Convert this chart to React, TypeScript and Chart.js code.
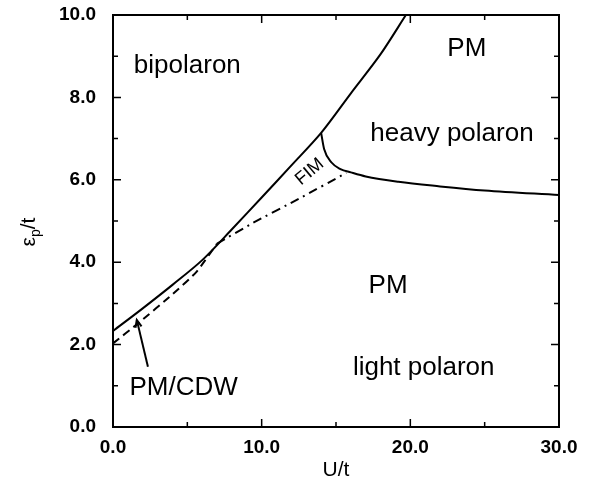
import React, { useEffect, useRef } from "react";
import { Chart, registerables } from "chart.js";

Chart.register(...registerables);

// axis ticks
const xTickValues = [0, 10, 20, 30];
const yTickValues = [0, 2, 4, 6, 8, 10];

// upper solid boundary (bipolaron)
const upperU = [0, 2, 4, 6, 8, 10, 12, 14, 16, 18, 19.7];
const upperEps = [2.33, 2.88, 3.45, 4.05, 4.8, 5.57, 6.35, 7.14, 8.1, 9.05, 10.0];

// dashed PM/CDW boundary
const cdwU = [0, 1.7, 4, 5.6, 7.0];
const cdwEps = [2.03, 2.52, 3.22, 3.76, 4.45];

// dash-dot FIM lower boundary
const fimLowU = [7.0, 9.4, 12.5, 15.7];
const fimLowEps = [4.45, 4.95, 5.54, 6.17];

// heavy polaron boundary
const heavyU = [14, 14.2, 14.7, 15.3, 16, 17, 19.2, 22, 25, 30];
const heavyEps = [7.14, 6.75, 6.42, 6.26, 6.18, 6.08, 5.95, 5.84, 5.74, 5.63];

// arrow pointing at PM/CDW strip (tail -> head)
const arrowU = [2.35, 1.6];
const arrowEps = [1.46, 2.6];

// region labels
const regionTexts = ["bipolaron", "PM", "heavy polaron", "FIM", "PM", "light polaron", "PM/CDW"];
const regionU = [5.0, 23.8, 22.8, 13.45, 18.5, 20.9, 4.75];
const regionEps = [8.59, 9.0, 6.94, 6.1, 3.25, 1.26, 0.78];
const regionAngle = [0, 0, 0, -40, 0, 0, 0];
const regionSize = [26, 26, 26, 18, 26, 26, 26];

const FONT = "'Liberation Sans', Arial, Helvetica, sans-serif";

const toPts = (xs: number[], ys: number[]) => xs.map((x, i) => ({ x, y: ys[i] }));

const overlay = {
  id: "overlay",
  afterDatasetsDraw(chart: any) {
    const ctx = chart.ctx as CanvasRenderingContext2D;
    const { left, right, top, bottom } = chart.chartArea;
    const xs = chart.scales.x;
    const ys = chart.scales.y;
    ctx.save();
    ctx.strokeStyle = "#000";
    ctx.fillStyle = "#000";
    // frame
    ctx.lineWidth = 2;
    ctx.strokeRect(left, top, right - left, bottom - top);
    // inward ticks
    ctx.lineWidth = 1.5;
    ctx.beginPath();
    for (let v = 0; v <= 30; v += 5) {
      const px = xs.getPixelForValue(v);
      const len = v % 10 === 0 ? 8 : 5;
      ctx.moveTo(px, bottom);
      ctx.lineTo(px, bottom - len);
      ctx.moveTo(px, top);
      ctx.lineTo(px, top + len);
    }
    for (let v = 0; v <= 10; v += 1) {
      const py = ys.getPixelForValue(v);
      const len = v % 2 === 0 ? 8 : 5;
      ctx.moveTo(left, py);
      ctx.lineTo(left + len, py);
      ctx.moveTo(right, py);
      ctx.lineTo(right - len, py);
    }
    ctx.stroke();

    // arrow head
    const tx = xs.getPixelForValue(arrowU[0]);
    const ty = ys.getPixelForValue(arrowEps[0]);
    const hx = xs.getPixelForValue(arrowU[1]);
    const hy = ys.getPixelForValue(arrowEps[1]);
    const ang = Math.atan2(hy - ty, hx - tx);
    ctx.lineWidth = 2;
    ctx.beginPath();
    ctx.moveTo(hx - 8 * Math.cos(ang - 0.4), hy - 8 * Math.sin(ang - 0.4));
    ctx.lineTo(hx, hy);
    ctx.lineTo(hx - 8 * Math.cos(ang + 0.4), hy - 8 * Math.sin(ang + 0.4));
    ctx.stroke();

    // region labels
    ctx.textAlign = "center";
    ctx.textBaseline = "alphabetic";
    regionTexts.forEach((t, i) => {
      const px = xs.getPixelForValue(regionU[i]);
      const py = ys.getPixelForValue(regionEps[i]);
      ctx.save();
      ctx.translate(px, py);
      ctx.rotate((regionAngle[i] * Math.PI) / 180);
      ctx.font = `${regionSize[i]}px ${FONT}`;
      ctx.fillText(t, 0, 0);
      ctx.restore();
    });

    // y-axis title: ε_p/t rotated
    ctx.save();
    ctx.translate(35, 232);
    ctx.rotate(-Math.PI / 2);
    ctx.textAlign = "left";
    const big = `21px ${FONT}`;
    const small = `14px ${FONT}`;
    ctx.font = big;
    const w1 = ctx.measureText("ε").width;
    const w3 = ctx.measureText("/t").width;
    ctx.font = small;
    const w2 = ctx.measureText("p").width;
    let cx = -(w1 + w2 + w3) / 2;
    ctx.font = big;
    ctx.fillText("ε", cx, 0);
    cx += w1;
    ctx.font = small;
    ctx.fillText("p", cx, 5);
    cx += w2;
    ctx.font = big;
    ctx.fillText("/t", cx, 0);
    ctx.restore();

    ctx.restore();
  },
};

export default function App() {
  const ref = useRef<HTMLCanvasElement | null>(null);
  useEffect(() => {
    if (!ref.current) return;
    const line = (data: any, dash: number[] = [], tension = 0.3) => ({
      type: "line",
      data,
      borderColor: "#000",
      borderWidth: 2,
      borderDash: dash,
      pointRadius: 0,
      fill: false,
      tension,
      showLine: true,
    });
    const chart = new Chart(ref.current, {
      type: "scatter",
      data: {
        datasets: [
          line(toPts(upperU, upperEps), [], 0.3),
          line(toPts(cdwU, cdwEps), [8, 5], 0.2),
          line(toPts(fimLowU, fimLowEps), [9, 5, 2, 5], 0.2),
          { ...line(toPts(heavyU, heavyEps), [], 0), cubicInterpolationMode: "monotone" },
          line(toPts(arrowU, arrowEps), [], 0),
        ] as any,
      },
      options: {
        animation: false,
        responsive: false,
        layout: { padding: { top: 0, right: 33, left: 0, bottom: 0 } },
        plugins: { legend: { display: false }, tooltip: { enabled: false } },
        scales: {
          x: {
            type: "linear",
            min: 0,
            max: 30,
            grid: { display: false },
            border: { display: false },
            afterBuildTicks: (s: any) => {
              s.ticks = xTickValues.map((v) => ({ value: v }));
            },
            afterFit: (s: any) => {
              s.height = 62;
            },
            ticks: {
              color: "#000",
              padding: 1,
              maxRotation: 0,
              font: { family: FONT, size: 19, weight: "bold" },
              callback: (v: any) => Number(v).toFixed(1),
            },
            title: {
              display: true,
              text: "U/t",
              color: "#000",
              font: { family: FONT, size: 21 },
              padding: { top: 0, bottom: 6 },
            },
          },
          y: {
            type: "linear",
            min: 0,
            max: 10,
            grid: { display: false },
            border: { display: false },
            afterBuildTicks: (s: any) => {
              s.ticks = yTickValues.map((v) => ({ value: v }));
            },
            afterFit: (s: any) => {
              s.width = 113;
              s.paddingTop = 15;
              s.paddingBottom = 0;
            },
            ticks: {
              color: "#000",
              padding: 9,
              font: { family: FONT, size: 19, weight: "bold" },
              callback: (v: any) => Number(v).toFixed(1),
            },
          },
        },
      } as any,
      plugins: [overlay],
    });
    return () => chart.destroy();
  }, []);
  return (
    <div style={{ position: "fixed", left: 0, top: 0, width: 592, height: 489, background: "#fff" }}>
      <canvas ref={ref} width={592} height={489} />
    </div>
  );
}
